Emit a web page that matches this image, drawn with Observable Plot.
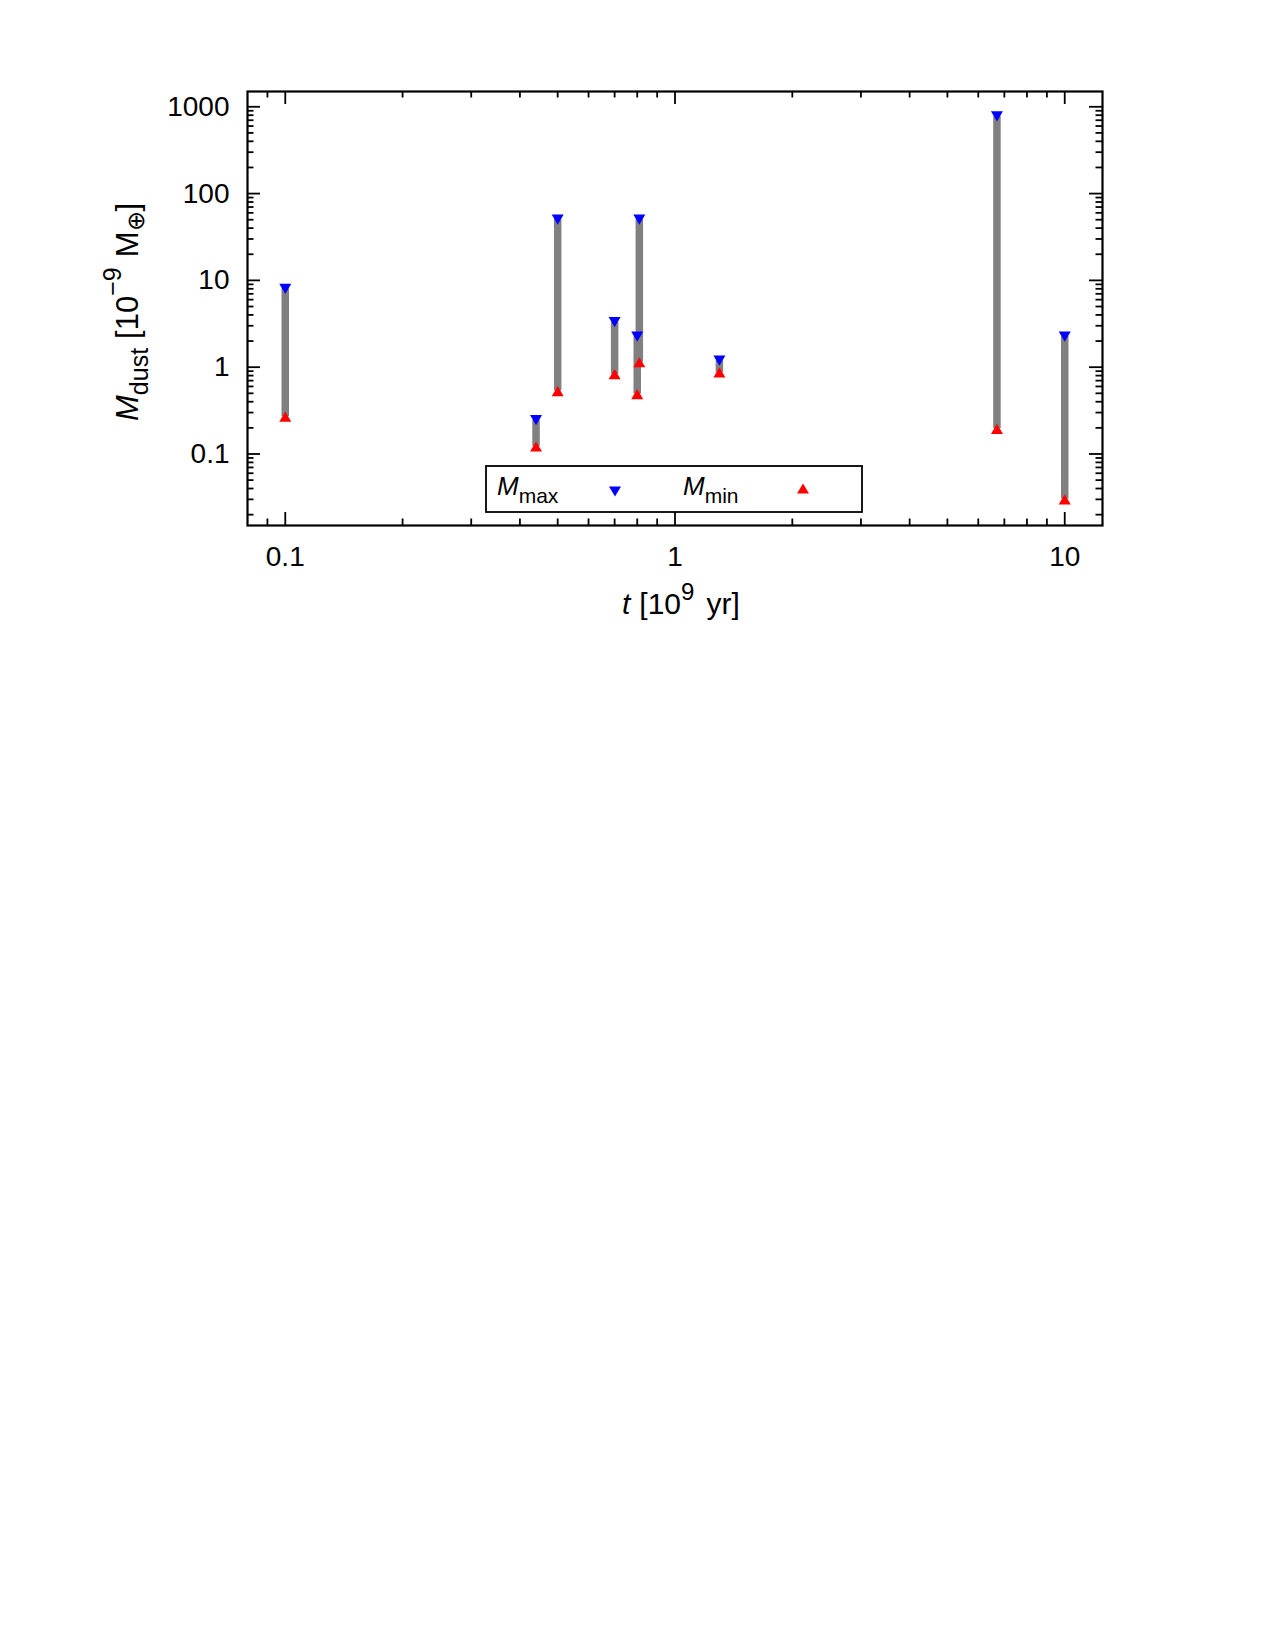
<!DOCTYPE html>
<html><head><meta charset="utf-8">
<script src="https://cdn.jsdelivr.net/npm/d3@7"></script>
<script src="https://cdn.jsdelivr.net/npm/@observablehq/plot@0.6"></script>
<style>
body{margin:0;background:#fff;}
#chart svg{display:block;}
</style>
</head><body><div id="chart"></div>
<script>
// ---- data ----
const ages    = [0.1, 0.44, 0.5, 0.7, 0.8, 0.81, 1.3, 6.7, 10];          // t [10^9 yr]
const massMax = [8, 0.245, 50, 3.3, 2.25, 50, 1.19, 775, 2.25];           // M_max [10^-9 M_earth]
const massMin = [0.27, 0.122, 0.53, 0.83, 0.49, 1.14, 0.87, 0.195, 0.03]; // M_min
const xMajor = [0.1, 1, 10];
const xMinor = [0.09, 0.2, 0.3, 0.4, 0.5, 0.6, 0.7, 0.8, 0.9, 2, 3, 4, 5, 6, 7, 8, 9];
const yMajor = [0.1, 1, 10, 100, 1000];
const yMinor = [0.02, 0.03, 0.04, 0.05, 0.06, 0.07, 0.08, 0.09,
                0.2, 0.3, 0.4, 0.5, 0.6, 0.7, 0.8, 0.9,
                2, 3, 4, 5, 6, 7, 8, 9,
                20, 30, 40, 50, 60, 70, 80, 90,
                200, 300, 400, 500, 600, 700, 800, 900];
const xDomain = [0.08, 12.5];
const yDomain = [0.015, 1500];
const legendNames = ["max", "min"];
const colMax = "#0000ff", colMin = "#ff0000", colBar = "#808080";

const rows = ages.map((t, i) => ({t, max: massMax[i], min: massMin[i]}));

const W = 1275, H = 640, mL = 247, mR = 173, mT = 91, mB = 115;
const pw = W - mL - mR, ph = H - mT - mB;
const font = "'Liberation Sans', Arial, Helvetica, sans-serif";

function triPath(ctx, s, down) {
  const w = s, h = s * 1.7 / 2;
  if (down) { ctx.moveTo(-w, -h); ctx.lineTo(w, -h); ctx.lineTo(0, h); }
  else { ctx.moveTo(-w, h); ctx.lineTo(w, h); ctx.lineTo(0, -h); }
  ctx.closePath();
}
const downTri = {draw(ctx, size) { triPath(ctx, Math.sqrt(size / Math.PI), true); }};
const upTri   = {draw(ctx, size) { triPath(ctx, Math.sqrt(size / Math.PI), false); }};

const MAJ = 13, MIN = 6.5, TW = 1.8;
const id = d => d;
const chart = Plot.plot({
  width: W, height: H,
  marginLeft: mL, marginRight: mR, marginTop: mT, marginBottom: mB,
  style: {fontFamily: font, fontSize: "28px", color: "#000", background: "#fff"},
  x: {type: "log", domain: xDomain},
  y: {type: "log", domain: yDomain},
  marks: [
    // inward ticks on all four sides
    Plot.tickY(yMajor, {y: id, insetRight: pw - MAJ, strokeWidth: TW}),
    Plot.tickY(yMajor, {y: id, insetLeft: pw - MAJ, strokeWidth: TW}),
    Plot.tickY(yMinor, {y: id, insetRight: pw - MIN, strokeWidth: TW}),
    Plot.tickY(yMinor, {y: id, insetLeft: pw - MIN, strokeWidth: TW}),
    Plot.tickX(xMajor, {x: id, insetTop: ph - MAJ, strokeWidth: TW}),
    Plot.tickX(xMajor, {x: id, insetBottom: ph - MAJ, strokeWidth: TW}),
    Plot.tickX(xMinor, {x: id, insetTop: ph - MIN, strokeWidth: TW}),
    Plot.tickX(xMinor, {x: id, insetBottom: ph - MIN, strokeWidth: TW}),
    // data
    Plot.ruleX(rows, {x: "t", y1: "min", y2: "max", stroke: colBar, strokeWidth: 7.5}),
    Plot.dot(rows, {x: "t", y: "max", symbol: downTri, r: 6, fill: colMax, stroke: "none"}),
    Plot.dot(rows, {x: "t", y: "min", symbol: upTri, r: 6, fill: colMin, stroke: "none"}),
    Plot.frame({stroke: "#000", strokeWidth: 2.2}),
    Plot.axisY({ticks: yMajor, tickSize: 0, tickPadding: 18, tickFormat: d => String(d), label: null, fontSize: 28}),
    Plot.axisX({ticks: xMajor, tickSize: 0, tickPadding: 21, tickFormat: d => String(d), label: null, fontSize: 28})
  ]
});
document.getElementById("chart").appendChild(chart);

// ---- axis titles and key, as real SVG text ----
const svg = d3.select(chart);
const g = svg.append("g").attr("font-family", font).attr("fill", "#000").attr("text-anchor", "start");

// x title: t [10^9 yr]
const xt = g.append("text").attr("x", 622).attr("y", 614).attr("font-size", 30);
xt.append("tspan").attr("font-style", "italic").text("t");
xt.append("tspan").attr("dx", 9).text("[10");
xt.append("tspan").attr("font-size", 24).attr("dy", -14).text("9");
xt.append("tspan").attr("dy", 14).attr("dx", 12).text("yr]");

// y title: M_dust [10^-9 M⊕]
const yt = g.append("text").attr("transform", "translate(138,421) rotate(-90)").attr("font-size", 31);
yt.append("tspan").attr("font-style", "italic").text("M");
yt.append("tspan").attr("font-size", 25).attr("dy", 10).text("dust");
yt.append("tspan").attr("dy", -10).attr("dx", 9).text("[10");
yt.append("tspan").attr("font-size", 25).attr("dy", -17).text("\u22129");
yt.append("tspan").attr("dy", 17).attr("dx", 10).text("M");
yt.append("tspan").attr("font-size", 24).attr("dy", 6).text("\u2295");
yt.append("tspan").attr("dy", -6).text("]");

// key box
g.append("rect").attr("x", 486).attr("y", 466).attr("width", 376).attr("height", 46)
  .attr("fill", "#fff").attr("stroke", "#000").attr("stroke-width", 1.8);
const keyItems = [
  {name: legendNames[0], tx: 497, sx: 615, sy: 491.5, col: colMax, down: true},
  {name: legendNames[1], tx: 683, sx: 803, sy: 488.5, col: colMin, down: false}
];
for (const k of keyItems) {
  const t = g.append("text").attr("x", k.tx).attr("y", 495).attr("font-size", 26);
  t.append("tspan").attr("font-style", "italic").text("M");
  t.append("tspan").attr("font-size", 21).attr("dy", 8).text(k.name);
  const p = d3.path(); triPath(p, 6, k.down);
  g.append("path").attr("d", p.toString()).attr("fill", k.col)
    .attr("transform", `translate(${k.sx},${k.sy})`);
}
</script>
</body></html>
